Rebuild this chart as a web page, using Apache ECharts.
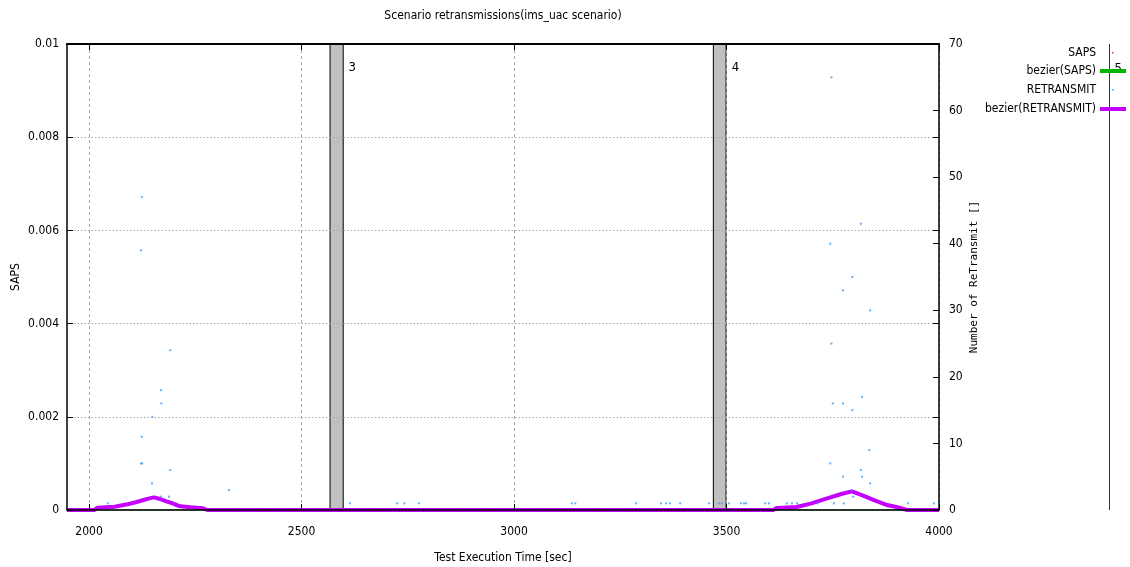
<!DOCTYPE html>
<html>
<head>
<meta charset="utf-8">
<title>Scenario retransmissions</title>
<script src="https://cdn.jsdelivr.net/npm/echarts@6/dist/echarts.min.js"></script>
<style>
  html, body { margin: 0; padding: 0; background: #fff; }
  #chart { width: 1130px; height: 567px; }
</style>
</head>
<body>
<div id="chart"></div>
<script>
// ---- data ----
const chartTitle = 'Scenario retransmissions(ims_uac scenario)';
const xTicks = [2000, 2500, 3000, 3500, 4000];
const xRange = [1948, 4000];
const sapsRange = [0, 0.01, 0.002];
const retransRange = [0, 70, 10];

// RETRANSMIT samples: [time (s), count]
const retransmitPoints = [
  [2044, 1], [2124, 47], [2122, 39], [2191, 24], [2169, 18], [2170, 16],
  [2149, 14], [2124, 11], [2122, 7], [2125, 7], [2191, 6], [2148, 4],
  [2329, 3], [2169, 2], [2188, 2],
  [2614, 1], [2725, 1], [2742, 1], [2776, 1], [3136, 1], [3144, 1],
  [3287, 1], [3346, 1], [3358, 1], [3367, 1], [3391, 1], [3459, 1],
  [3482, 1], [3489, 1], [3506, 1], [3534, 1], [3541, 1], [3546, 1],
  [3591, 1], [3600, 1], [3642, 1], [3654, 1], [3666, 1], [3715, 1],
  [3753, 1], [3776, 1], [3927, 1], [3988, 1],
  [3747, 65], [3816, 43], [3744, 40], [3796, 35], [3774, 33], [3838, 30],
  [3747, 25], [3819, 17], [3750, 16], [3774, 16], [3796, 15], [3836, 9],
  [3744, 7], [3816, 6], [3774, 5], [3819, 5], [3838, 4], [3794, 3], [3798, 2]
];

// smoothed RETRANSMIT curve
const retransmitBezier = [
  [1948, 0], [2012, 0], [2020, 0.35], [2060, 0.5], [2090, 0.85], [2112, 1.2],
  [2128, 1.5], [2142, 1.75], [2152, 1.9], [2165, 1.7], [2182, 1.3], [2198, 0.95],
  [2214, 0.55], [2240, 0.4], [2268, 0.25], [2278, 0],
  [3610, 0], [3618, 0.3], [3665, 0.45], [3700, 1.0], [3735, 1.7], [3770, 2.4],
  [3795, 2.8], [3820, 2.2], [3850, 1.4], [3875, 0.8], [3900, 0.45], [3925, 0],
  [4000, 0]
];

// smoothed SAPS curve
const sapsBezier = [[1948, 0], [4000, 0]];

// scenario phase markers
const phaseMarks = [
  { label: '3', start: 2567, end: 2598 },
  { label: '4', start: 3469, end: 3499 }
];
const lateMark = { label: '5', at: 4400 };

const legendItems = ['SAPS', 'bezier(SAPS)', 'RETRANSMIT', 'bezier(RETRANSMIT)'];

// ---- styles ----
const NARROW = "'Liberation Sans Narrow', 'DejaVu Sans Condensed', 'Arial Narrow', sans-serif";
const MONO = "'DejaVu Sans Mono', 'Liberation Mono', monospace";
const C_RETRANS = '#3d9df5';
const C_RBEZ = '#c400ff';
const C_SBEZ = '#00b400';
const C_SAPS = '#ff3030';
const GRID_GREY = '#a8a8a8';

const chart = echarts.init(document.getElementById('chart'), null, { renderer: 'canvas' });

const labelFont = { fontFamily: NARROW, fontSize: 12, color: '#000' };
const plainNumber = v => String(v);

const option = {
  animation: false,
  backgroundColor: '#fff',
  grid: { left: 67, right: 191, top: 44, bottom: 57, show: false, containLabel: false, outerBoundsMode: 'none' },
  xAxis: [
    {
      type: 'value', position: 'bottom', min: xRange[0], max: xRange[1], z: 10,
      name: 'Test Execution Time [sec]', nameLocation: 'middle', nameGap: 42,
      nameTextStyle: { fontFamily: NARROW, fontSize: 12, color: '#000' },
      axisLine: { show: true, onZero: false, lineStyle: { color: '#000', width: 1.5 } },
      axisTick: { show: true, inside: true, length: 6, customValues: xTicks, lineStyle: { color: '#000' } },
      axisLabel: Object.assign({ margin: 16, customValues: xTicks, formatter: plainNumber }, labelFont),
      splitLine: { show: true, lineStyle: { color: GRID_GREY, type: [3, 3], width: 1 } }
    },
    {
      type: 'value', position: 'top', min: xRange[0], max: xRange[1], z: 10,
      axisLine: { show: true, onZero: false, lineStyle: { color: '#000', width: 2 } },
      axisTick: { show: true, inside: true, length: 6, customValues: xTicks, lineStyle: { color: '#000' } },
      axisLabel: { show: false, customValues: xTicks },
      splitLine: { show: false }
    }
  ],
  yAxis: [
    {
      type: 'value', position: 'left', min: sapsRange[0], max: sapsRange[1], interval: sapsRange[2], z: 10,
      name: 'SAPS', nameLocation: 'middle', nameGap: 45, nameRotate: 90, nameMoveOverlap: false,
      nameTextStyle: { fontFamily: NARROW, fontSize: 12, color: '#000' },
      axisLine: { show: true, onZero: false, lineStyle: { color: '#000', width: 1.5 } },
      axisTick: { show: true, inside: true, length: 6, lineStyle: { color: '#000' } },
      axisLabel: Object.assign({ margin: 8 }, labelFont),
      splitLine: { show: true, lineStyle: { color: GRID_GREY, type: [1.5, 2], width: 1 } }
    },
    {
      type: 'value', position: 'right', min: retransRange[0], max: retransRange[1], interval: retransRange[2], z: 10,
      name: 'Number of ReTransmit []', nameLocation: 'middle', nameGap: 30, nameRotate: 90, nameMoveOverlap: false,
      nameTextStyle: { fontFamily: MONO, fontSize: 11, color: '#000' },
      axisLine: { show: true, onZero: false, lineStyle: { color: '#000', width: 1.5 } },
      axisTick: { show: true, inside: true, length: 6, lineStyle: { color: '#000' } },
      axisLabel: Object.assign({ margin: 10 }, labelFont),
      splitLine: { show: false }
    },
    {
      type: 'value', position: 'right', min: sapsRange[0], max: sapsRange[1], interval: sapsRange[2], z: 10,
      axisLine: { show: false },
      axisTick: { show: true, inside: true, length: 6, lineStyle: { color: '#000' } },
      axisLabel: { show: false },
      splitLine: { show: false }
    }
  ],
  series: [
    {
      name: 'bezier(SAPS)', type: 'line', xAxisIndex: 0, yAxisIndex: 0, z: 1,
      data: sapsBezier, showSymbol: false, silent: true,
      lineStyle: { color: C_SBEZ, width: 1 }
    },
    {
      name: 'RETRANSMIT', type: 'scatter', xAxisIndex: 0, yAxisIndex: 1, z: 4,
      data: retransmitPoints, symbol: 'rect', symbolSize: [2, 2],
      itemStyle: { color: C_RETRANS },
      markArea: {
        silent: true,
        itemStyle: { color: '#c0c0c0', borderColor: '#000', borderWidth: 1, opacity: 1 },
        label: {
          show: true, position: [19, 18], align: 'left', verticalAlign: 'top',
          fontFamily: NARROW, fontSize: 13, color: '#000'
        },
        data: phaseMarks.map(m => [{ name: m.label, xAxis: m.start }, { xAxis: m.end }])
      }
    },
    {
      name: 'bezier(RETRANSMIT)', type: 'line', xAxisIndex: 0, yAxisIndex: 1, z: 3,
      data: retransmitBezier, showSymbol: false, silent: true,
      lineStyle: { color: C_RBEZ, width: 4 }
    }
  ]
};

chart.setOption(option);

// title, legend and the out-of-range phase marker are placed from the axis scales
const plotTop = chart.convertToPixel({ yAxisIndex: 1 }, retransRange[1]);
const plotBottom = chart.convertToPixel({ yAxisIndex: 1 }, retransRange[0]);
const plotLeft = chart.convertToPixel({ xAxisIndex: 0 }, xRange[0]);
const plotRight = chart.convertToPixel({ xAxisIndex: 0 }, xRange[1]);
const lateX = Math.round(chart.convertToPixel({ xAxisIndex: 0 }, lateMark.at)) + 0.5;

const legendRight = 1096;
const sampleX = 1100;
const rows = [53, 71, 90, 109];
const graphics = [
  {
    type: 'text', x: (plotLeft + plotRight) / 2, y: 16,
    style: { text: chartTitle, font: "12px " + NARROW, fill: '#000', textAlign: 'center', textVerticalAlign: 'middle' }
  },
  {
    type: 'line', silent: true,
    shape: { x1: lateX, y1: plotTop, x2: lateX, y2: plotBottom },
    style: { stroke: '#333', lineWidth: 1 }
  },
  {
    type: 'text', x: lateX + 5, y: plotTop + 18,
    style: { text: lateMark.label, font: "13px " + NARROW, fill: '#000', textAlign: 'left', textVerticalAlign: 'top' }
  }
];
legendItems.forEach((name, i) => {
  graphics.push({
    type: 'text', x: legendRight, y: rows[i],
    style: { text: name, font: "12px " + NARROW, fill: '#000', textAlign: 'right', textVerticalAlign: 'middle' }
  });
});
graphics.push(
  { type: 'rect', shape: { x: 1112, y: rows[0] - 1, width: 1.5, height: 1.5 }, style: { fill: C_SAPS } },
  { type: 'line', shape: { x1: sampleX, y1: rows[1], x2: 1126, y2: rows[1] }, style: { stroke: C_SBEZ, lineWidth: 4 } },
  { type: 'rect', shape: { x: 1112, y: rows[2] - 1, width: 1.5, height: 1.5 }, style: { fill: C_RETRANS } },
  { type: 'line', shape: { x1: sampleX, y1: rows[3], x2: 1126, y2: rows[3] }, style: { stroke: C_RBEZ, lineWidth: 4 } }
);
chart.setOption({ graphic: graphics });
</script>
</body>
</html>
